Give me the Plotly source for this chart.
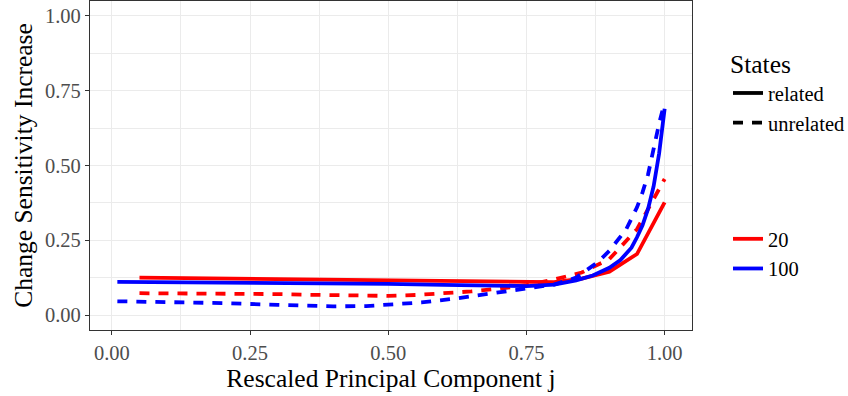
import plotly.graph_objects as go

# Rescaled principal component positions and sensitivity increase
x_20 = [0.05, 0.10, 0.15, 0.20, 0.25, 0.30, 0.35, 0.40, 0.45, 0.50,
        0.55, 0.60, 0.65, 0.70, 0.75, 0.80, 0.85, 0.90, 0.95, 1.00]
y_20_related = [0.125, 0.124, 0.123, 0.122, 0.121, 0.120, 0.119, 0.118, 0.117, 0.116,
                0.114, 0.113, 0.111, 0.109, 0.108, 0.110, 0.122, 0.145, 0.204, 0.377]
y_20_unrelated = [0.073, 0.073, 0.072, 0.072, 0.071, 0.070, 0.068, 0.066, 0.064, 0.064,
                  0.067, 0.072, 0.079, 0.088, 0.100, 0.119, 0.142, 0.187, 0.287, 0.455]

x_100_related = [0.01, 0.10, 0.20, 0.30, 0.40, 0.50, 0.60, 0.70, 0.75, 0.80,
                 0.84, 0.87, 0.90, 0.92, 0.94, 0.95, 0.96, 0.97, 0.98, 0.99, 1.00]
y_100_related = [0.111, 0.110, 0.109, 0.108, 0.106, 0.104, 0.101, 0.098, 0.097, 0.102,
                 0.116, 0.132, 0.158, 0.184, 0.225, 0.260, 0.300, 0.355, 0.430, 0.540, 0.690]

x_100_unrelated = [0.01, 0.10, 0.20, 0.30, 0.40, 0.46, 0.50, 0.56, 0.625, 0.69, 0.75,
                   0.80, 0.84, 0.86, 0.88, 0.90, 0.93, 0.95, 0.96, 0.97, 0.98, 0.99, 1.00]
y_100_unrelated = [0.046, 0.044, 0.040, 0.034, 0.029, 0.030, 0.034, 0.042, 0.056, 0.073, 0.089,
                   0.102, 0.125, 0.150, 0.178, 0.215, 0.285, 0.360, 0.410, 0.470, 0.560, 0.640, 0.712]

x_ticks = [0.0, 0.25, 0.5, 0.75, 1.0]
x_tick_labels = ["0.00", "0.25", "0.50", "0.75", "1.00"]
y_ticks = [0.0, 0.25, 0.5, 0.75, 1.0]
y_tick_labels = ["0.00", "0.25", "0.50", "0.75", "1.00"]

RED = "#FF0000"
BLUE = "#0000FF"
LW = 3.8
DASH = "10px,9px"
FONT = "Liberation Serif, Times New Roman, serif"
BASE = 25.5

fig = go.Figure()

series = [
    (x_20, y_20_related, RED, "solid"),
    (x_20, y_20_unrelated, RED, DASH),
    (x_100_related, y_100_related, BLUE, "solid"),
    (x_100_unrelated, y_100_unrelated, BLUE, DASH),
]
for xs, ys, col, dash in series:
    fig.add_trace(go.Scatter(x=xs, y=ys, mode="lines", showlegend=False,
                             line=dict(color=col, width=LW, dash=dash),
                             hoverinfo="skip"))

# Legend keys: line type block
for name, dash in [("related", "solid"), ("unrelated", DASH)]:
    fig.add_trace(go.Scatter(x=[None], y=[None], mode="lines", name=name,
                             line=dict(color="black", width=LW, dash=dash),
                             legend="legend"))
# Legend keys: colour block
for name, col in [("20", RED), ("100", BLUE)]:
    fig.add_trace(go.Scatter(x=[None], y=[None], mode="lines", name=name,
                             line=dict(color=col, width=LW),
                             legend="legend2"))

axis_common = dict(
    showgrid=True, gridcolor="#EBEBEB", gridwidth=1.1,
    minor=dict(showgrid=True, gridcolor="#EBEBEB", gridwidth=0.6, dtick=0.125,
               tick0=0),
    ticks="outside", ticklen=4, tickwidth=1.1, tickcolor="#333333",
    tickfont=dict(family=FONT, size=20.5, color="#4D4D4D"),
    showline=True, linecolor="#333333", linewidth=1.1, mirror=True,
    zeroline=False,
)

fig.update_layout(
    width=848, height=396,
    margin=dict(l=90, r=156, t=1, b=66),
    paper_bgcolor="white", plot_bgcolor="white",
    font=dict(family=FONT, color="black"),
    xaxis=dict(range=[-0.0395, 1.0495], tickvals=x_ticks, ticktext=x_tick_labels,
               title=dict(text="Rescaled Principal Component j",
                          font=dict(family=FONT, size=BASE, color="black"), standoff=3),
               **axis_common),
    yaxis=dict(range=[-0.05, 1.05], tickvals=y_ticks, ticktext=y_tick_labels,
               title=dict(text="Change Sensitivity Increase",
                          font=dict(family=FONT, size=BASE, color="black"), standoff=5),
               **axis_common),
    legend=dict(xref="container", yref="container", x=728 / 848, y=1 - 40 / 396,
                xanchor="left", yanchor="top",
                title=dict(text="States", font=dict(family=FONT, size=BASE, color="black")),
                font=dict(family=FONT, size=20.5, color="black"),
                itemwidth=30, tracegroupgap=0, bgcolor="rgba(0,0,0,0)"),
    legend2=dict(xref="container", yref="container", x=728 / 848, y=1 - 219 / 396,
                 xanchor="left", yanchor="top",
                 font=dict(family=FONT, size=20.5, color="black"),
                 itemwidth=30, tracegroupgap=0, bgcolor="rgba(0,0,0,0)"),
)

fig.write_html("out.html")
